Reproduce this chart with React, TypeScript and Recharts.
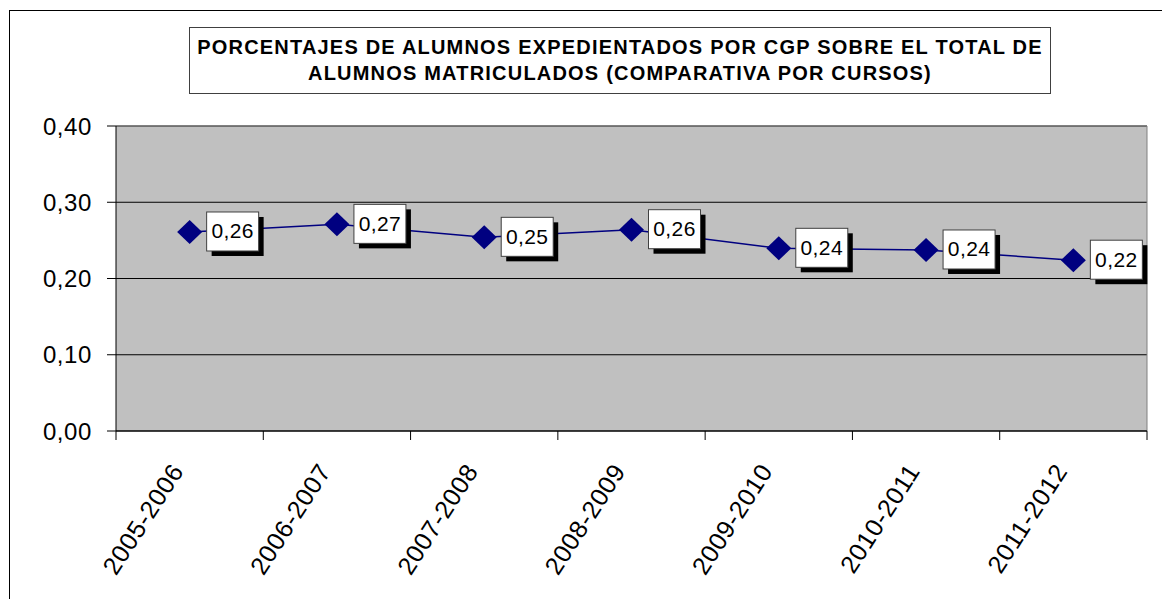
import React from 'react';
import { LineChart, Line, XAxis, YAxis, CartesianGrid, LabelList } from 'recharts';

// cursos académicos y porcentaje de alumnos expedientados
const cursos = ['2005-2006', '2006-2007', '2007-2008', '2008-2009', '2009-2010', '2010-2011', '2011-2012'];
const porcentajes = [0.261, 0.271, 0.254, 0.264, 0.2396, 0.2374, 0.224];
const yTicks = [0, 0.1, 0.2, 0.3, 0.4];

const data = cursos.map((curso, i) => ({ curso, valor: porcentajes[i] }));

const W = 1162;
const H = 599;
const TOP = 126;
const RIGHT = 15;
const Y_AXIS_W = 116;
const X_AXIS_H = 168;
const PLOT_W = W - Y_AXIS_W - RIGHT;
const BAND = PLOT_W / cursos.length;

const FONT = '"Liberation Sans", Arial, sans-serif';
const NAVY = '#000080';

const fmt = (v: number) => v.toFixed(2).replace('.', ',');

const Diamond = (props: any) => {
  const { cx, cy } = props;
  if (cx == null || cy == null) return null;
  return (
    <path
      d={`M${cx},${cy - 12} L${cx + 12.5},${cy} L${cx},${cy + 12} L${cx - 12.5},${cy} Z`}
      fill={NAVY}
    />
  );
};

const ValueLabel = (props: any) => {
  const { x, y, value } = props;
  const bx = x + 17;
  const by = y - 20;
  return (
    <g>
      <rect x={bx + 5} y={by + 5} width={52} height={39} fill="#000" />
      <rect x={bx} y={by} width={52} height={39} fill="#fff" stroke="#404040" strokeWidth={1} />
      <text
        x={bx + 26}
        y={by + 19}
        textAnchor="middle"
        dominantBaseline="central"
        fontFamily={FONT}
        fontSize={21}
        letterSpacing={0.4}
        fill="#000"
      >
        {fmt(value)}
      </text>
    </g>
  );
};

const CursoTick = (props: any) => {
  const { x, y, payload } = props;
  const isLast = payload.value === cursos[cursos.length - 1];
  const tx = x - 5;
  const ty = y + 40;
  return (
    <g>
      <line x1={x - BAND / 2} y1={y} x2={x - BAND / 2} y2={y + 9} stroke="#000" />
      {isLast && <line x1={x + BAND / 2} y1={y} x2={x + BAND / 2} y2={y + 9} stroke="#000" />}
      <text
        x={tx}
        y={ty}
        transform={`rotate(-57, ${tx}, ${ty})`}
        textAnchor="end"
        fontFamily={FONT}
        fontSize={25}
        letterSpacing={0.7}
        fill="#000"
      >
        {payload.value}
      </text>
    </g>
  );
};

export default function App() {
  return (
    <div style={{ position: 'absolute', left: 0, top: 0, width: W, height: H, overflow: 'hidden', background: '#fff' }}>
      <div
        style={{
          position: 'absolute',
          left: 9,
          top: 10,
          width: W + 20,
          height: H + 20,
          border: '1px solid #000',
        }}
      />
      <div style={{ position: 'absolute', left: 0, top: 0 }}>
        <LineChart width={W} height={H} data={data} margin={{ top: TOP, right: RIGHT, bottom: 0, left: 0 }}>
          <CartesianGrid vertical={false} stroke="#000" fill="#C0C0C0" fillOpacity={1} />
          <CartesianGrid
            horizontalPoints={[TOP]}
            verticalPoints={[Y_AXIS_W + PLOT_W]}
            stroke="#808080"
            fill="none"
          />
          <XAxis
            dataKey="curso"
            padding={{ left: BAND / 2, right: BAND / 2 }}
            height={X_AXIS_H}
            interval={0}
            axisLine={{ stroke: '#000' }}
            tickLine={false}
            tickSize={0}
            tickMargin={0}
            tick={<CursoTick />}
          />
          <YAxis
            width={Y_AXIS_W}
            domain={[0, 0.4]}
            ticks={yTicks}
            tickFormatter={fmt}
            axisLine={{ stroke: '#000' }}
            tickLine={{ stroke: '#000' }}
            tickSize={9}
            tickMargin={15}
            tick={{ fontFamily: FONT, fontSize: 24, fill: '#000', letterSpacing: 0.6 }}
          />
          <Line
            dataKey="valor"
            stroke={NAVY}
            strokeWidth={1.5}
            dot={<Diamond />}
            activeDot={false}
            isAnimationActive={false}
          >
            <LabelList dataKey="valor" content={<ValueLabel />} />
          </Line>
        </LineChart>
      </div>
      <div
        style={{
          position: 'absolute',
          left: 189,
          top: 27,
          width: 862,
          height: 67,
          boxSizing: 'border-box',
          border: '1px solid #404040',
          background: '#fff',
          fontFamily: FONT,
          fontWeight: 'bold',
          fontSize: 20,
          lineHeight: '26px',
          letterSpacing: 1.2,
          color: '#000',
          textAlign: 'center',
          whiteSpace: 'pre',
          paddingTop: 6,
        }}
      >
        <div>PORCENTAJES DE ALUMNOS EXPEDIENTADOS POR CGP SOBRE EL TOTAL DE</div>
        <div>ALUMNOS MATRICULADOS (COMPARATIVA POR CURSOS)</div>
      </div>
    </div>
  );
}
